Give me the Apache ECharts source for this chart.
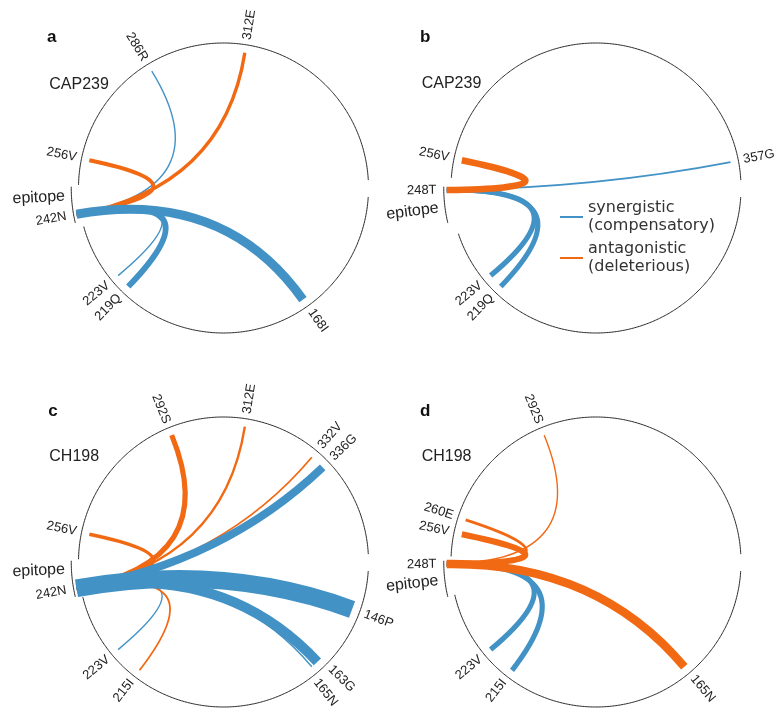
<!DOCTYPE html>
<html><head><meta charset="utf-8">
<script src="https://cdn.jsdelivr.net/npm/echarts@6/dist/echarts.min.js"></script>
<style>html,body{margin:0;padding:0;background:#fff}#c{width:777px;height:709px}</style>
</head><body><div id="c"></div>
<script>
// ---------------- data ----------------
const panelLetters = ['a', 'b', 'c', 'd'];
const strainNames  = ['CAP239', 'CAP239', 'CH198', 'CH198'];
const epitopeSites = ['242N', '248T', '242N', '248T'];

const partnersA = ['168I', '219Q', '223V', '256V', '286R', '312E'];
const kindsA    = ['syn',  'syn',  'syn',  'ant',  'syn',  'ant'];
const strengthA = [0.45,   0.30,   0.07,   0.20,   0.07,   0.17];

const partnersB = ['219Q', '223V', '256V', '357G'];
const kindsB    = ['syn',  'syn',  'ant',  'syn'];
const strengthB = [0.26,   0.26,   0.33,   0.09];

const partnersC = ['146P', '163G', '165N', '215I', '223V', '256V', '292S', '312E', '332V', '336G'];
const kindsC    = ['syn',  'syn',  'syn',  'ant',  'syn',  'ant',  'ant',  'ant',  'ant',  'syn'];
const strengthC = [0.88,   0.50,   0.07,   0.09,   0.07,   0.17,   0.26,   0.12,   0.09,   0.40];

const partnersD = ['165N', '215I', '223V', '256V', '260E', '292S'];
const kindsD    = ['ant',  'syn',  'syn',  'ant',  'ant',  'ant'];
const strengthD = [0.42,   0.26,   0.26,   0.30,   0.14,   0.07];

const kindNames = ['syn', 'ant'];
const legendNames = ['synergistic\n(compensatory)', 'antagonistic\n(deleterious)'];

// sequence ring (residue numbers)
const seqStart = 135.3, seqEnd = 362;
const epitopeRange = [240, 248.8];
const ringGaps = [[238.6, 249.3], [236.7, 251.1], [239.5, 249.2], [240.1, 249.9]];

// ---------------- layout / style ----------------
const centers = [[223.5, 188], [596, 188], [223.5, 562], [596, 562]];
const R = 145, RMAX = 1.3;
const AXIS_MIN = 133, AXIS_MAX = 364;
const epitopeLabelPos = [246.6, 243.85, 246.8, 244.2];
const labelNudge = { '2:163G': -1.35, '2:165N': 1.35 };
const COLORS = { syn: '#4292c6', ant: '#f16913' };
const letterPos = [[47, 37.5], [420, 37.5], [48.3, 411], [420, 411]];
const strainPos = [[49.3, 84.3], [421.7, 83.6], [49.3, 456.8], [421.7, 456.8]];
const SITE_FONT = '13px "Liberation Sans", Arial, sans-serif';
const EPI_FONT = '16px "Liberation Sans", Arial, sans-serif';

const panels = [
  { partners: partnersA, kinds: kindsA, strength: strengthA },
  { partners: partnersB, kinds: kindsB, strength: strengthB },
  { partners: partnersC, kinds: kindsC, strength: strengthC },
  { partners: partnersD, kinds: kindsD, strength: strengthD }
];
const resNum = s => parseInt(s, 10);

const series = [];
panels.forEach((pn, i) => {
  // ring
  const ringData = [
    [seqStart, ringGaps[i][0], 1],
    [ringGaps[i][1], seqEnd, 1],
    [epitopeRange[0], epitopeRange[1], 1.05]
  ];
  series.push({
    type: 'custom', coordinateSystem: 'polar', polarIndex: i, silent: true,
    data: ringData,
    renderItem: function (params, api) {
      const a = api.value(0), b = api.value(1), r = api.value(2);
      const pts = [];
      const n = Math.max(2, Math.ceil((b - a) / 0.4));
      for (let k = 0; k <= n; k++) pts.push(api.coord([r, a + (b - a) * k / n]));
      return { type: 'polyline', shape: { points: pts }, style: { stroke: '#2a2a2a', lineWidth: 1, fill: 'none' } };
    }
  });
  // links
  const e = resNum(epitopeSites[i]);
  const links = pn.partners.map((p, k) => [e, resNum(p), pn.strength[k], kindNames.indexOf(pn.kinds[k])]);
  links.sort((x, y) => x[2] - y[2]);
  series.push({
    type: 'custom', coordinateSystem: 'polar', polarIndex: i, silent: true,
    data: links,
    renderItem: function (params, api) {
      const p0 = api.coord([1.03, api.value(0)]);
      const p1 = api.coord([0.945, api.value(1)]);
      const c = api.coord([0, api.value(0)]);
      return {
        type: 'bezierCurve',
        shape: { x1: p0[0], y1: p0[1], x2: p1[0], y2: p1[1], cpx1: c[0], cpy1: c[1] },
        style: { stroke: COLORS[kindNames[api.value(3)]], lineWidth: 20 * api.value(2), fill: 'none', lineCap: 'butt' }
      };
    }
  });
  // labels
  const texts = [], fonts = [], ldata = [];
  const inEpi = v => v >= epitopeRange[0] - 1 && v <= epitopeRange[1] + 1;
  pn.partners.concat([epitopeSites[i]]).forEach(s => {
    const v = resNum(s) + (labelNudge[i + ':' + s] || 0);
    texts.push(s); fonts.push(SITE_FONT);
    ldata.push([inEpi(resNum(s)) ? 1.1 : 1.035, v]);
  });
  texts.push('epitope'); fonts.push(EPI_FONT); ldata.push([1.095, epitopeLabelPos[i]]);
  series.push({
    type: 'custom', coordinateSystem: 'polar', polarIndex: i, silent: true,
    data: ldata,
    renderItem: function (params, api) {
      const r = api.value(0), v = api.value(1);
      const p = api.coord([r, v]);
      const c = api.coord([0, v]);
      const th = Math.atan2(p[1] - c[1], p[0] - c[0]) * 180 / Math.PI;
      const left = th > 90 || th < -90;
      const rot = left ? (180 - th) : -th;
      return {
        type: 'text', x: p[0], y: p[1], rotation: rot * Math.PI / 180,
        style: { text: texts[params.dataIndex], font: fonts[params.dataIndex], fill: '#222',
                 align: left ? 'right' : 'left', verticalAlign: 'middle' }
      };
    }
  });
});
// legend carriers
legendNames.forEach((nm, k) => {
  series.push({ type: 'line', name: nm, coordinateSystem: 'polar', polarIndex: 1, data: [],
    itemStyle: { color: COLORS[kindNames[k]] }, lineStyle: { color: COLORS[kindNames[k]] } });
});

const graphic = [];
panelLetters.forEach((t, i) => graphic.push({ type: 'text', x: letterPos[i][0], y: letterPos[i][1],
  style: { text: t, font: 'bold 17px "Liberation Sans", Arial, sans-serif', fill: '#111', verticalAlign: 'middle' } }));
strainNames.forEach((t, i) => graphic.push({ type: 'text', x: strainPos[i][0], y: strainPos[i][1],
  style: { text: t, font: '16px "Liberation Sans", Arial, sans-serif', fill: '#222', verticalAlign: 'middle' } }));

const chart = echarts.init(document.getElementById('c'), null, { renderer: 'canvas' });
chart.setOption({
  animation: false,
  backgroundColor: '#fff',
  polar: centers.map(c => ({ center: c, radius: R * RMAX })),
  angleAxis: centers.map((c, i) => ({ polarIndex: i, type: 'value', min: AXIS_MIN, max: AXIS_MAX,
    startAngle: 0, clockwise: true, show: false })),
  radiusAxis: centers.map((c, i) => ({ polarIndex: i, type: 'value', min: 0, max: RMAX, show: false })),
  legend: { orient: 'vertical', left: 560, top: 199, padding: 0, itemWidth: 23, itemHeight: 2, itemGap: 5,
    icon: 'rect', selectedMode: false, data: legendNames,
    textStyle: { fontFamily: 'DejaVu Sans', fontSize: 16, lineHeight: 18, color: '#333' } },
  graphic: graphic,
  series: series
});
</script></body></html>
